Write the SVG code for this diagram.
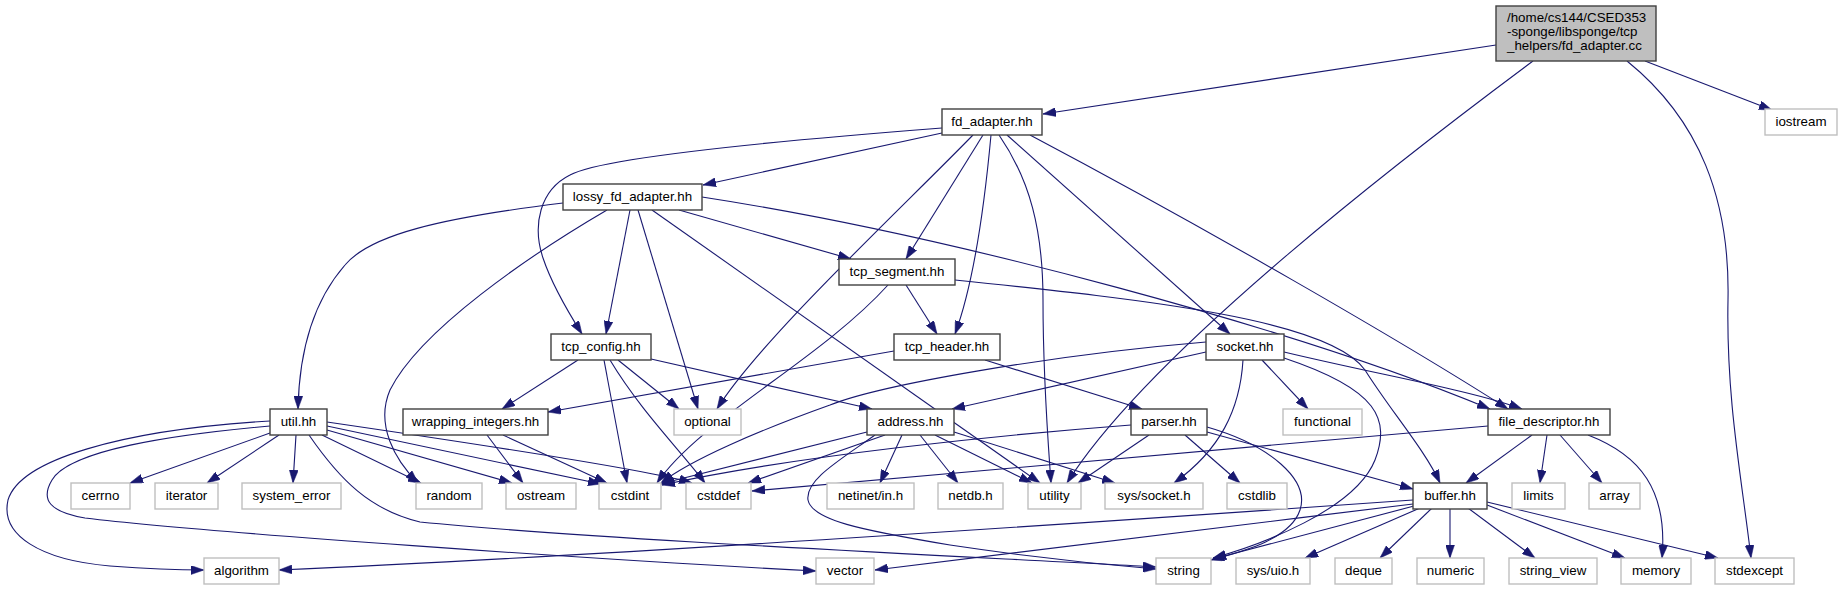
<svg xmlns="http://www.w3.org/2000/svg" width="1843" height="589" viewBox="0 0 1843 589">
<style>
.e{fill:none;stroke:#191970;stroke-width:1.1;marker-end:url(#ah)}
.d rect{fill:#fff;stroke:#404040;stroke-width:1.4}
.u rect{fill:#fff;stroke:#bfbfbf;stroke-width:1.4}
.r rect{fill:#bfbfbf;stroke:#404040;stroke-width:1.4}
text{font-family:"Liberation Sans",Arial,Helvetica,sans-serif;font-size:13.33px;fill:#000;text-anchor:middle}
.r text{text-anchor:start}
</style>
<defs>
<marker id="ah" viewBox="0 0 13 9" refX="13" refY="4.5" markerWidth="13" markerHeight="9" markerUnits="userSpaceOnUse" orient="auto">
<path d="M0,0 L13,4.5 L0,9 z" fill="#191970" stroke="#191970" stroke-width="0.5"/>
</marker>
</defs>
<rect width="1843" height="589" fill="#fff"/>
<g id="edges">
<path class="e" d="M1496,45 L1043,114"/>
<path class="e" d="M1533,61 C1420,145 1150,350 1067,483"/>
<path class="e" d="M1627,61 C1700,120 1730,200 1728,300 C1726,400 1742,480 1751,558"/>
<path class="e" d="M1645,61 L1772,110"/>
<path class="e" d="M942,133 L703,185"/>
<path class="e" d="M942,128 C760,142 600,158 570,175 C540,190 532,225 543,258 C552,285 570,315 582,334"/>
<path class="e" d="M973,135 C900,210 760,340 717,409"/>
<path class="e" d="M983,135 L906,259"/>
<path class="e" d="M991,135 C985,200 975,280 955,334"/>
<path class="e" d="M999,135 C1030,180 1043,230 1043,300 C1043,380 1048,440 1051,483"/>
<path class="e" d="M1007,135 L1230,334"/>
<path class="e" d="M1030,135 C1200,225 1400,340 1508,409"/>
<path class="e" d="M563,203 C440,218 370,235 345,265 C310,305 299,360 298,409"/>
<path class="e" d="M607,210 C530,255 420,330 390,390 C375,425 395,460 418,483"/>
<path class="e" d="M630,210 L606,334"/>
<path class="e" d="M638,210 L698,409"/>
<path class="e" d="M652,210 L1040,483"/>
<path class="e" d="M679,210 L851,259"/>
<path class="e" d="M702,197 C950,235 1300,330 1490,409"/>
<path class="e" d="M906,285 L937,334"/>
<path class="e" d="M888,285 C820,360 700,420 657,483"/>
<path class="e" d="M955,280 C1150,300 1330,320 1365,370 C1390,410 1425,450 1440,483"/>
<path class="e" d="M578,360 L502,409"/>
<path class="e" d="M618,360 L679,409"/>
<path class="e" d="M604,360 L627,483"/>
<path class="e" d="M610,360 C640,410 680,450 705,483"/>
<path class="e" d="M651,359 L872,409"/>
<path class="e" d="M894,351 L548,412"/>
<path class="e" d="M985,360 L1142,409"/>
<path class="e" d="M1206,352 L952,409"/>
<path class="e" d="M1206,342 C1050,355 880,385 830,405 C760,430 690,460 661,483"/>
<path class="e" d="M1262,360 L1308,409"/>
<path class="e" d="M1284,352 C1380,375 1470,390 1522,409"/>
<path class="e" d="M1243,360 C1240,410 1220,450 1174,483"/>
<path class="e" d="M1284,358 C1380,390 1390,420 1375,460 C1355,510 1260,545 1213,558"/>
<path class="e" d="M270,433 L130,483"/>
<path class="e" d="M279,435 L207,483"/>
<path class="e" d="M296,435 L293,483"/>
<path class="e" d="M322,435 L421,483"/>
<path class="e" d="M327,430 L512,483"/>
<path class="e" d="M327,426 L601,484"/>
<path class="e" d="M327,422 C450,440 650,470 692,483"/>
<path class="e" d="M270,421 C120,430 20,460 8,500 C0,535 40,560 110,566 C150,569 180,570 204,570"/>
<path class="e" d="M270,426 C170,435 70,450 52,480 C40,500 50,512 85,518 C200,532 600,560 816,571"/>
<path class="e" d="M309,435 C340,480 370,510 420,522 C600,540 1000,558 1156,567"/>
<path class="e" d="M487,435 L523,483"/>
<path class="e" d="M503,435 L607,483"/>
<path class="e" d="M867,432 L660,484"/>
<path class="e" d="M885,435 L748,483"/>
<path class="e" d="M902,435 L880,483"/>
<path class="e" d="M920,435 L958,483"/>
<path class="e" d="M935,435 L1032,483"/>
<path class="e" d="M954,432 L1115,483"/>
<path class="e" d="M875,435 C840,460 805,480 808,500 C812,520 860,530 950,545 C1050,560 1120,566 1156,569"/>
<path class="e" d="M1131,425 C1000,435 800,455 662,485"/>
<path class="e" d="M1149,435 L1078,483"/>
<path class="e" d="M1185,435 L1240,483"/>
<path class="e" d="M1207,427 C1270,445 1310,480 1300,510 C1290,540 1240,552 1211,560"/>
<path class="e" d="M1207,432 L1413,489"/>
<path class="e" d="M1488,426 L752,491"/>
<path class="e" d="M1532,435 L1466,483"/>
<path class="e" d="M1547,435 L1540,483"/>
<path class="e" d="M1560,435 L1602,483"/>
<path class="e" d="M1588,435 C1640,455 1668,490 1662,558"/>
<path class="e" d="M1413,500 C1100,522 600,556 279,570"/>
<path class="e" d="M1413,504 C1200,530 950,560 875,570"/>
<path class="e" d="M1414,506 L1213,559"/>
<path class="e" d="M1420,508 L1305,558"/>
<path class="e" d="M1432,508 L1380,558"/>
<path class="e" d="M1450,508 L1450,558"/>
<path class="e" d="M1468,508 L1535,558"/>
<path class="e" d="M1487,505 L1625,558"/>
<path class="e" d="M1487,502 L1718,558"/>
</g>
<g id="fd_adapter_cc" class="r"><rect x="1496" y="6" width="160" height="55"/><text x="1507" y="22">/home/cs144/CSED353</text><text x="1507" y="36">-sponge/libsponge/tcp</text><text x="1507" y="50">_helpers/fd_adapter.cc</text></g>
<g id="fd_adapter_hh" class="d"><rect x="942" y="109" width="100" height="26"/><text x="992" y="126">fd_adapter.hh</text></g>
<g id="iostream" class="u"><rect x="1765" y="109" width="72" height="26"/><text x="1801" y="126">iostream</text></g>
<g id="lossy_fd_adapter_hh" class="d"><rect x="563" y="184" width="139" height="26"/><text x="632.5" y="201">lossy_fd_adapter.hh</text></g>
<g id="tcp_segment_hh" class="d"><rect x="839" y="259" width="116" height="26"/><text x="897" y="276">tcp_segment.hh</text></g>
<g id="tcp_config_hh" class="d"><rect x="551" y="334" width="100" height="26"/><text x="601" y="351">tcp_config.hh</text></g>
<g id="tcp_header_hh" class="d"><rect x="894" y="334" width="106" height="26"/><text x="947" y="351">tcp_header.hh</text></g>
<g id="socket_hh" class="d"><rect x="1206" y="334" width="78" height="26"/><text x="1245" y="351">socket.hh</text></g>
<g id="util_hh" class="d"><rect x="270" y="409" width="57" height="26"/><text x="298.5" y="426">util.hh</text></g>
<g id="wrapping_integers_hh" class="d"><rect x="403" y="409" width="145" height="26"/><text x="475.5" y="426">wrapping_integers.hh</text></g>
<g id="optional" class="u"><rect x="674" y="409" width="67" height="26"/><text x="707.5" y="426">optional</text></g>
<g id="address_hh" class="d"><rect x="867" y="409" width="87" height="26"/><text x="910.5" y="426">address.hh</text></g>
<g id="parser_hh" class="d"><rect x="1131" y="409" width="76" height="26"/><text x="1169" y="426">parser.hh</text></g>
<g id="functional" class="u"><rect x="1283" y="409" width="79" height="26"/><text x="1322.5" y="426">functional</text></g>
<g id="file_descriptor_hh" class="d"><rect x="1488" y="409" width="122" height="26"/><text x="1549" y="426">file_descriptor.hh</text></g>
<g id="cerrno" class="u"><rect x="71" y="483" width="59" height="26"/><text x="100.5" y="500">cerrno</text></g>
<g id="iterator" class="u"><rect x="155" y="483" width="63" height="26"/><text x="186.5" y="500">iterator</text></g>
<g id="system_error" class="u"><rect x="242" y="483" width="99" height="26"/><text x="291.5" y="500">system_error</text></g>
<g id="random" class="u"><rect x="416" y="483" width="66" height="26"/><text x="449" y="500">random</text></g>
<g id="ostream" class="u"><rect x="506" y="483" width="70" height="26"/><text x="541" y="500">ostream</text></g>
<g id="cstdint" class="u"><rect x="599" y="483" width="62" height="26"/><text x="630" y="500">cstdint</text></g>
<g id="cstddef" class="u"><rect x="686" y="483" width="65" height="26"/><text x="718.5" y="500">cstddef</text></g>
<g id="netinet_in_h" class="u"><rect x="827" y="483" width="87" height="26"/><text x="870.5" y="500">netinet/in.h</text></g>
<g id="netdb_h" class="u"><rect x="938" y="483" width="65" height="26"/><text x="970.5" y="500">netdb.h</text></g>
<g id="utility" class="u"><rect x="1028" y="483" width="53" height="26"/><text x="1054.5" y="500">utility</text></g>
<g id="sys_socket_h" class="u"><rect x="1105" y="483" width="98" height="26"/><text x="1154" y="500">sys/socket.h</text></g>
<g id="cstdlib" class="u"><rect x="1227" y="483" width="60" height="26"/><text x="1257" y="500">cstdlib</text></g>
<g id="buffer_hh" class="d"><rect x="1413" y="483" width="74" height="26"/><text x="1450" y="500">buffer.hh</text></g>
<g id="limits" class="u"><rect x="1512" y="483" width="53" height="26"/><text x="1538.5" y="500">limits</text></g>
<g id="array" class="u"><rect x="1589" y="483" width="51" height="26"/><text x="1614.5" y="500">array</text></g>
<g id="algorithm" class="u"><rect x="204" y="558" width="75" height="26"/><text x="241.5" y="575">algorithm</text></g>
<g id="vector" class="u"><rect x="816" y="558" width="58" height="26"/><text x="845" y="575">vector</text></g>
<g id="string" class="u"><rect x="1156" y="558" width="55" height="26"/><text x="1183.5" y="575">string</text></g>
<g id="sys_uio_h" class="u"><rect x="1236" y="558" width="74" height="26"/><text x="1273" y="575">sys/uio.h</text></g>
<g id="deque" class="u"><rect x="1335" y="558" width="57" height="26"/><text x="1363.5" y="575">deque</text></g>
<g id="numeric" class="u"><rect x="1417" y="558" width="67" height="26"/><text x="1450.5" y="575">numeric</text></g>
<g id="string_view" class="u"><rect x="1509" y="558" width="88" height="26"/><text x="1553" y="575">string_view</text></g>
<g id="memory" class="u"><rect x="1621" y="558" width="70" height="26"/><text x="1656" y="575">memory</text></g>
<g id="stdexcept" class="u"><rect x="1715" y="558" width="79" height="26"/><text x="1754.5" y="575">stdexcept</text></g>
</svg>
